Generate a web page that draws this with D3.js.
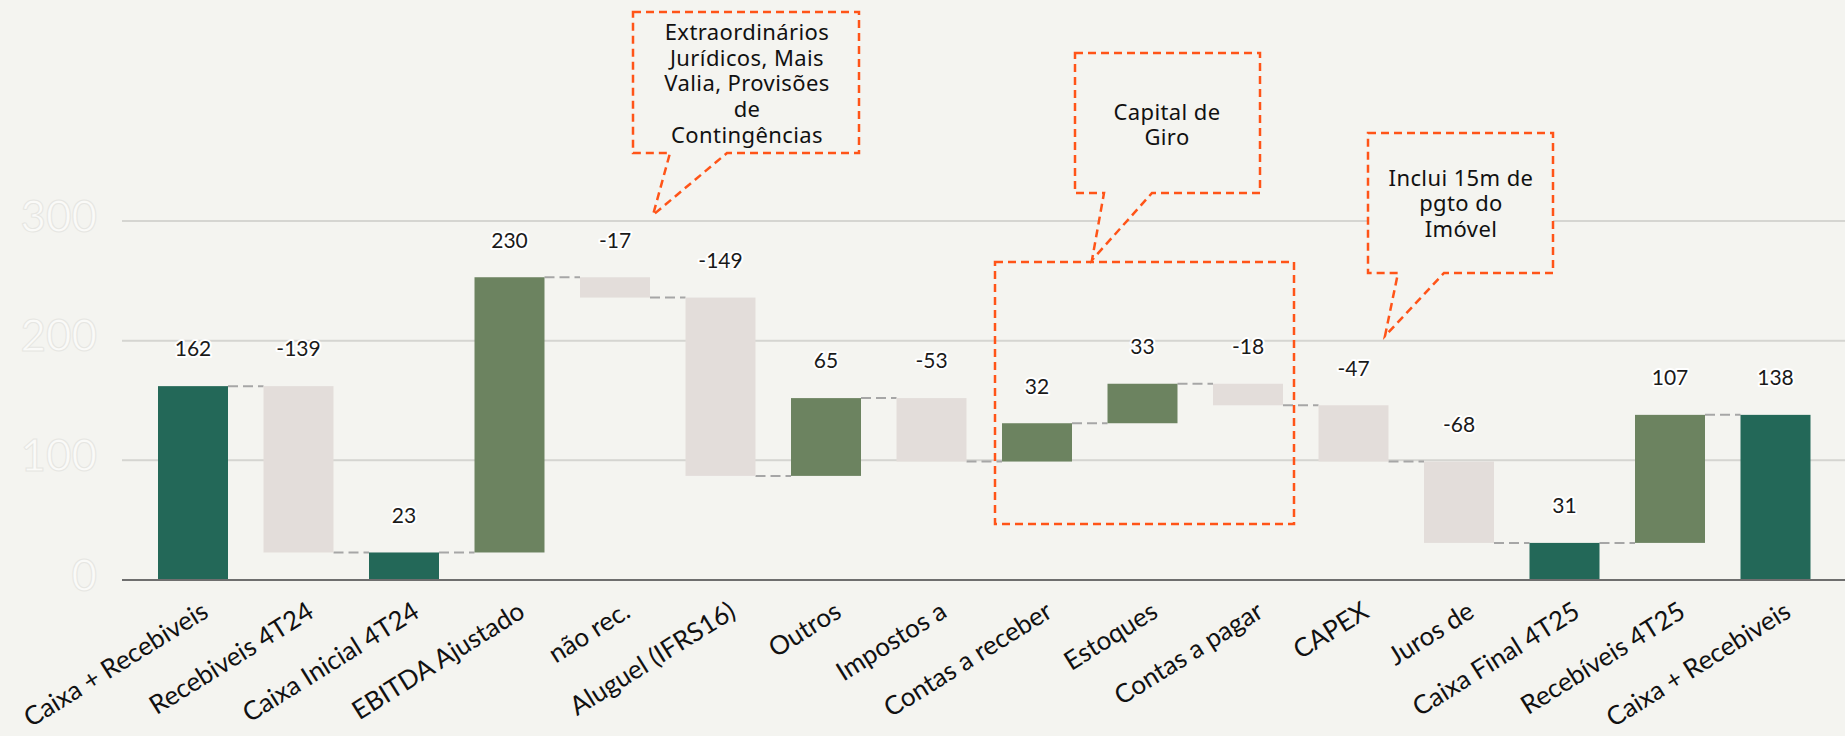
<!DOCTYPE html>
<html>
<head>
<meta charset="utf-8">
<script src="https://cdn.jsdelivr.net/npm/d3@7"></script>
<style>
  html, body { margin: 0; padding: 0; background: #F4F4F0; }
  svg { display: block; }
</style>
</head>
<body>
<svg id="chart" width="1845" height="736"></svg>
<script>
// Cash bridge, in R$ millions
const values = [162, -139, 23, 230, -17, -149, 65, -53, 32, 33, -18, -47, -68, 31, 107, 138];
const kinds  = ["total", "step", "total", "step", "step", "step", "step", "step",
                "step", "step", "step", "step", "step", "total", "step", "total"];
// Category captions under each bar
const tickLabels = ["Caixa + Recebiveis", "Recebiveis 4T24", "Caixa Inicial 4T24", "EBITDA Ajustado",
                    "não rec.", "Aluguel (IFRS16)", "Outros", "Impostos a", "Contas a receber", "Estoques",
                    "Contas a pagar", "CAPEX", "Juros de", "Caixa Final 4T25", "Recebíveis 4T25", "Caixa + Recebiveis"];
const yTicks = [0, 100, 200, 300];

const W = 1845, H = 736;
const BG = "#F4F4F0";
const COLORS = { total: "#236858", up: "#6C8360", down: "#E3DDDA" };
const ORANGE = "#FF5418";

const svg = d3.select("#chart");
svg.append("rect").attr("width", W).attr("height", H).attr("fill", BG);

const y = d3.scaleLinear().domain([0, 300]).range([580, 221]);
const x = d3.scaleBand()
  .domain(d3.range(values.length))
  .range([140.25, 1828.25])
  .paddingInner(0.3365)
  .paddingOuter(0.16825);

// running totals for the floating bars
let level = 0;
const bars = values.map((v, i) => {
  let s, e;
  if (kinds[i] === "total") { s = 0; e = v; } else { s = level; e = level + v; }
  level = e;
  return { i, v, kind: kinds[i], s, e };
});

// gridlines
const grid = svg.append("g");
grid.selectAll("line").data(yTicks.filter(t => t > 0)).join("line")
  .attr("x1", 122).attr("x2", W)
  .attr("y1", d => y(d)).attr("y2", d => y(d))
  .attr("stroke", "#D5D5D1").attr("stroke-width", 2);

// faint outlined y tick labels
const yAxis = svg.append("g").attr("transform", "translate(97,-4)")
  .call(d3.axisLeft(y).tickValues(yTicks).tickSize(0).tickPadding(0));
yAxis.select(".domain").remove();
yAxis.selectAll("text")
  .attr("font-family", "Lato, sans-serif")
  .attr("font-size", 44)
  .attr("fill", "#FAFAF8")
  .attr("stroke", "#E6E6E2")
  .attr("stroke-width", 1);

// connector lines between consecutive bars
svg.append("g").selectAll("line").data(bars.slice(0, -1)).join("line")
  .attr("x1", d => x(d.i) + x.bandwidth())
  .attr("x2", d => x(d.i + 1))
  .attr("y1", d => y(d.e)).attr("y2", d => y(d.e))
  .attr("stroke", "#A6A6A6").attr("stroke-width", 2)
  .attr("stroke-dasharray", "10,5");

// bars
svg.append("g").selectAll("rect").data(bars).join("rect")
  .attr("x", d => x(d.i))
  .attr("width", x.bandwidth())
  .attr("y", d => y(Math.max(d.s, d.e)))
  .attr("height", d => Math.abs(y(d.s) - y(d.e)))
  .attr("fill", d => d.kind === "total" ? COLORS.total : (d.v >= 0 ? COLORS.up : COLORS.down));

// baseline
svg.append("line")
  .attr("x1", 122).attr("x2", W)
  .attr("y1", y(0)).attr("y2", y(0))
  .attr("stroke", "#6E6E6E").attr("stroke-width", 2);

// value labels with a soft white halo
svg.append("g").selectAll("text").data(bars).join("text")
  .attr("x", d => x(d.i) + x.bandwidth() / 2)
  .attr("y", d => y(Math.max(d.s, d.e)) - 37)
  .attr("dy", "0.35em")
  .attr("text-anchor", "middle")
  .attr("font-family", "Lato, sans-serif")
  .attr("font-size", 21)
  .attr("fill", "#1A1A1A")
  .attr("stroke", "#FFFFFF").attr("stroke-width", 4)
  .attr("stroke-linejoin", "round")
  .attr("paint-order", "stroke")
  .text(d => String(d.v));

// rotated category captions, end-anchored just right of each bar centre
const xAxis = svg.append("g").attr("transform", "translate(17,616)")
  .call(d3.axisBottom(x).tickSize(0).tickFormat(i => tickLabels[i]));
xAxis.select(".domain").remove();
xAxis.selectAll("text")
  .attr("x", 0).attr("y", 0).attr("dy", 0)
  .attr("transform", "rotate(-32)")
  .attr("text-anchor", "end")
  .attr("font-family", "Lato, sans-serif")
  .attr("font-size", 26)
  .attr("fill", "#111111");

// dashed callouts
const notes = svg.append("g");
function callout(x0, y0, x1, y1, ta, tb, tip, lines, cx, cy0, gap) {
  const p = d3.path();
  p.moveTo(x0, y0); p.lineTo(x1, y0); p.lineTo(x1, y1); p.lineTo(tb, y1);
  p.lineTo(tip[0], tip[1]); p.lineTo(ta, y1); p.lineTo(x0, y1); p.closePath();
  notes.append("path").attr("d", p.toString())
    .attr("fill", BG).attr("stroke", ORANGE).attr("stroke-width", 2.5)
    .attr("stroke-dasharray", "8,5");
  const t = notes.append("text")
    .attr("text-anchor", "middle")
    .attr("font-family", "'Noto Sans', sans-serif")
    .attr("font-size", 22)
    .attr("letter-spacing", 0.4)
    .attr("fill", "#111111");
  lines.forEach((s, k) => t.append("tspan").attr("x", cx).attr("y", cy0 + k * gap).attr("dy", "0.35em").text(s));
}

// working-capital frame
notes.append("rect")
  .attr("x", 995).attr("y", 262).attr("width", 299).attr("height", 262)
  .attr("fill", "none").attr("stroke", ORANGE).attr("stroke-width", 2.5)
  .attr("stroke-dasharray", "8,5");

callout(633, 12, 859, 153, 670, 727, [653, 215],
  ["Extraordinários", "Jurídicos, Mais", "Valia, Provisões", "de", "Contingências"], 747, 32, 25.8);
callout(1075, 53, 1260, 193, 1104, 1152, [1092, 260],
  ["Capital de", "Giro"], 1167, 112, 25.5);
callout(1368, 133, 1553, 273, 1398, 1444, [1385, 336],
  ["Inclui 15m de", "pgto do", "Imóvel"], 1461, 178, 25.5);
</script>
</body>
</html>
